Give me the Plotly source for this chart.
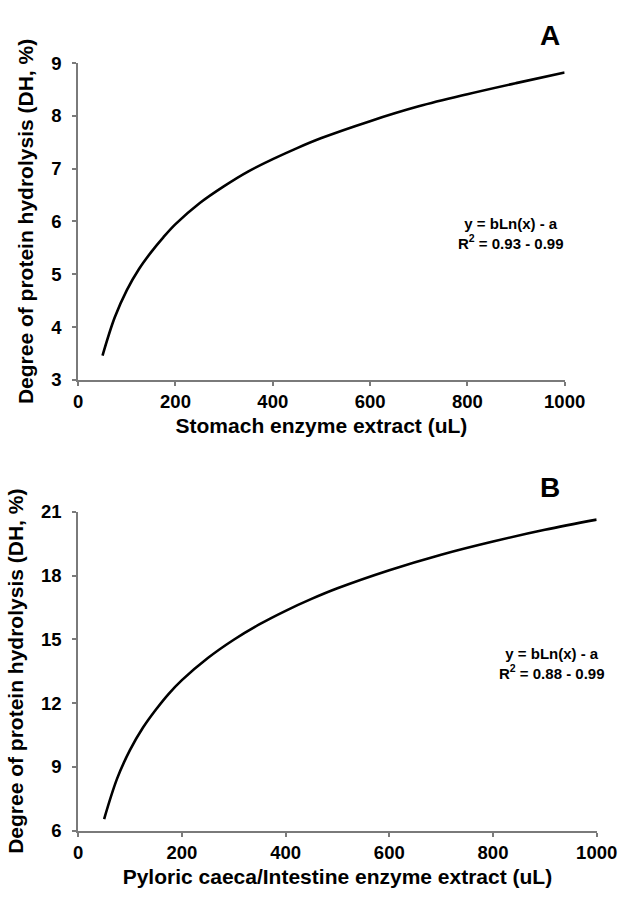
import plotly.graph_objects as go

# Panel A: stomach enzyme extract
x_a = [50, 75, 100, 125, 150, 175, 200, 250, 300, 350, 400, 450, 500, 600, 700, 800, 900, 1000]
y_a = [3.46, 4.18, 4.70, 5.10, 5.42, 5.70, 5.95, 6.35, 6.67, 6.95, 7.18, 7.39, 7.58, 7.90, 8.18, 8.41, 8.62, 8.82]

# Panel B: pyloric caeca/intestine enzyme extract
x_b = [50, 75, 100, 125, 150, 175, 200, 250, 300, 350, 400, 450, 500, 600, 700, 800, 900, 1000]
y_b = [6.55, 8.45, 9.80, 10.85, 11.70, 12.45, 13.08, 14.12, 14.98, 15.71, 16.34, 16.90, 17.40, 18.25, 18.98, 19.60, 20.15, 20.63]

x_ticks = [0, 200, 400, 600, 800, 1000]
y_ticks_a = [3, 4, 5, 6, 7, 8, 9]
y_ticks_b = [6, 9, 12, 15, 18, 21]

W, H = 641, 900
FONT = "Liberation Sans, Arial, sans-serif"

fig = go.Figure()
fig.add_trace(go.Scatter(x=x_a, y=y_a, mode="lines", line=dict(color="black", width=2.6, shape="spline", smoothing=1.0),
                         xaxis="x", yaxis="y", showlegend=False))
fig.add_trace(go.Scatter(x=x_b, y=y_b, mode="lines", line=dict(color="black", width=2.6, shape="spline", smoothing=1.0),
                         xaxis="x2", yaxis="y2", showlegend=False))

def xax(domain, anchor, title):
    return dict(domain=domain, anchor=anchor, range=[0, 1000], tickvals=x_ticks,
                showgrid=False, zeroline=False, showline=True, linecolor="#7a7a7a", linewidth=2,
                ticks="outside", ticklen=4, tickwidth=1.5, tickcolor="#7a7a7a",
                tickfont=dict(family=FONT, size=18.5, color="black", weight="bold"),
                title=dict(text="<b>%s</b>" % title, font=dict(family=FONT, size=21, color="black"), standoff=7),
                fixedrange=True)

def yax(domain, anchor, rng, ticks):
    return dict(domain=domain, anchor=anchor, range=rng, tickvals=ticks,
                showgrid=False, zeroline=False, showline=True, linecolor="#7a7a7a", linewidth=2,
                ticks="outside", ticklen=4, tickwidth=1.5, tickcolor="#7a7a7a", ticklabelstandoff=7,
                tickfont=dict(family=FONT, size=18.5, color="black", weight="bold"),
                title=dict(text="<b>Degree of protein hydrolysis (DH, %)</b>",
                           font=dict(family=FONT, size=21, color="black"), standoff=12),
                fixedrange=True)

x0 = 76.3 / W
fig.update_layout(
    width=W, height=H,
    margin=dict(l=0, r=0, t=0, b=0),
    paper_bgcolor="white", plot_bgcolor="white",
    xaxis=xax([x0, 583.3 / W], "y", "Stomach enzyme extract (uL)"),
    yaxis=yax([1 - 377.7 / H, 1 - 53.3 / H], "x", [3, 9], y_ticks_a),
    xaxis2=xax([x0, 616.7 / W], "y2", "Pyloric caeca/Intestine enzyme extract (uL)"),
    yaxis2=yax([1 - 839.3 / H, 1 - 512.7 / H], "x2", [6, 21], y_ticks_b),
    annotations=[
        dict(text="<b>A</b>", x=568 / W, y=1 - 25 / H, xref="paper", yref="paper", showarrow=False,
             xanchor="center", yanchor="middle", font=dict(family=FONT, size=28, color="black")),
        dict(text="<b>B</b>", x=568 / W, y=1 - 488 / H, xref="paper", yref="paper", showarrow=False,
             xanchor="center", yanchor="middle", font=dict(family=FONT, size=28, color="black")),
        dict(text="<b>y = bLn(x) - a<br>R<sup>2</sup> = 0.93 - 0.99</b>", x=527 / W, y=1 - 228 / H,
             xref="paper", yref="paper", showarrow=False, align="center", xanchor="center", yanchor="middle",
             font=dict(family=FONT, size=15, color="black")),
        dict(text="<b>y = bLn(x) - a<br>R<sup>2</sup> = 0.88 - 0.99</b>", x=570 / W, y=1 - 668 / H,
             xref="paper", yref="paper", showarrow=False, align="center", xanchor="center", yanchor="middle",
             font=dict(family=FONT, size=15, color="black")),
    ],
)

fig.write_html("out.html")
